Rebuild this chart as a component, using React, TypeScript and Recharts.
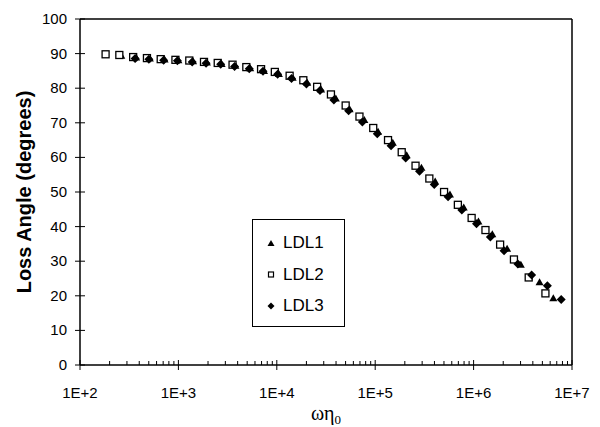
import React from 'react';
import { ScatterChart, Scatter, XAxis, YAxis, ReferenceLine, Legend } from 'recharts';

// reduced frequency (omega * eta0) and loss angle
const ldl1Freq = [263, 372, 513, 724, 1000, 1410, 1950, 2750, 3800, 5370, 7410, 10500, 14500, 20400, 28200, 39800, 55000, 77600, 107000, 151000, 209000, 295000, 407000, 575000, 794000, 1120000, 1550000, 2190000, 3020000, 4680000, 6460000];
const ldl1Angle = [89.4, 88.9, 88.6, 88.3, 88.1, 87.8, 87.4, 87.0, 86.5, 85.8, 85.0, 84.1, 83.0, 81.6, 79.6, 77.0, 73.9, 70.8, 67.4, 64.2, 60.6, 57.0, 53.0, 49.3, 45.5, 41.5, 37.8, 33.6, 29.0, 23.9, 19.3];

const ldl2Freq = [182, 251, 347, 479, 661, 933, 1290, 1820, 2510, 3550, 4900, 6920, 9550, 13500, 18600, 25700, 35500, 50100, 69200, 95500, 135000, 186000, 257000, 355000, 501000, 692000, 955000, 1320000, 1860000, 2570000, 3630000, 5370000];
const ldl2Angle = [89.8, 89.6, 89.0, 88.7, 88.4, 88.2, 88.0, 87.6, 87.3, 86.8, 86.1, 85.5, 84.7, 83.6, 82.3, 80.4, 78.2, 75.0, 71.8, 68.5, 65.0, 61.5, 57.6, 53.9, 50.0, 46.3, 42.5, 39.0, 34.8, 30.5, 25.3, 20.7];

const ldl3Freq = [363, 501, 708, 977, 1380, 1910, 2690, 3720, 5250, 7240, 10200, 14100, 20000, 27500, 38000, 53700, 74100, 105000, 145000, 204000, 282000, 398000, 550000, 759000, 1070000, 1480000, 2040000, 2820000, 3890000, 5620000, 7760000];
const ldl3Angle = [88.6, 88.4, 88.1, 87.9, 87.6, 87.2, 86.9, 86.3, 85.6, 84.9, 84.0, 82.8, 81.2, 79.3, 76.6, 73.5, 70.2, 66.8, 63.4, 59.8, 56.0, 52.2, 48.6, 44.8, 40.8, 37.0, 33.0, 29.2, 26.0, 22.9, 18.9];

const seriesNames = ['LDL1', 'LDL2', 'LDL3'];

const majorTicks = [100, 1000, 10000, 100000, 1000000, 10000000];
const minorTicks = majorTicks.slice(0, -1).flatMap((d) => [2, 3, 4, 5, 6, 7, 8, 9].map((m) => m * d));
const xTicks = [...majorTicks, ...minorTicks].sort((a, b) => a - b);
const yTicks = [0, 10, 20, 30, 40, 50, 60, 70, 80, 90, 100];

const toPoints = (f: number[], a: number[]) => f.map((x, i) => ({ x, y: a[i] }));

const sans = '"Liberation Sans", Arial, sans-serif';

const Tri = (p: any) => (
  <polygon points={`${p.cx},${p.cy - 4} ${p.cx + 4},${p.cy + 3} ${p.cx - 4},${p.cy + 3}`} fill="#000" />
);
const Sq = (p: any) => (
  <rect x={p.cx - 3.5} y={p.cy - 3.5} width={7} height={7} fill="#fff" stroke="#000" strokeWidth={1.3} />
);
const Dia = (p: any) => (
  <polygon points={`${p.cx},${p.cy - 4.5} ${p.cx + 4.5},${p.cy} ${p.cx},${p.cy + 4.5} ${p.cx - 4.5},${p.cy}`} fill="#000" />
);

const XTick = (props: any) => {
  const { x, y, payload } = props;
  const v = payload.value;
  if (!majorTicks.includes(v)) {
    return <line x1={x} x2={x} y1={y} y2={y - 4} stroke="#000" />;
  }
  return (
    <g>
      <line x1={x} x2={x} y1={y - 5} y2={y + 5} stroke="#000" />
      <text x={x} y={y + 33} textAnchor="middle" fontSize={15} fontFamily={sans} fill="#000">
        {`1E+${Math.round(Math.log10(v))}`}
      </text>
    </g>
  );
};

const YTick = (props: any) => {
  const { x, y, payload } = props;
  return (
    <g>
      <line x1={x - 5} x2={x + 5} y1={y} y2={y} stroke="#000" />
      <text x={x - 13} y={y + 5} textAnchor="end" fontSize={15} fontFamily={sans} fill="#000">
        {payload.value}
      </text>
    </g>
  );
};

const XTitle = (props: any) => {
  const { x, y, width } = props.viewBox;
  return (
    <text x={x + width / 2} y={y + 55} textAnchor="middle" fontSize={20} fontFamily='"Liberation Serif", serif' fill="#000">
      <tspan>ωη</tspan>
      <tspan fontSize={13} dy={4}>0</tspan>
    </text>
  );
};

const YTitle = (props: any) => {
  const { y, height } = props.viewBox;
  const cy = y + height / 2;
  return (
    <text x={24} y={cy} transform={`rotate(-90, 24, ${cy})`} textAnchor="middle" dominantBaseline="central" fontSize={20} fontWeight="bold" fontFamily={sans} fill="#000">
      Loss Angle (degrees)
    </text>
  );
};

const markers = [
  <polygon key="t" points="6,3 9.5,9 2.5,9" fill="#000" />,
  <rect key="s" x={3.5} y={3} width={5} height={5} fill="#fff" stroke="#000" strokeWidth={1.2} />,
  <polygon key="d" points="6,2.5 9.5,6 6,9.5 2.5,6" fill="#000" />,
];

const LegendBox = () => (
  <div style={{ border: '1px solid #000', width: 93, height: 108, boxSizing: 'border-box', paddingTop: 7, background: '#fff' }}>
    {seriesNames.map((n, i) => (
      <div key={n} style={{ height: 31.7, display: 'flex', alignItems: 'center', paddingLeft: 12, boxSizing: 'border-box' }}>
        <svg width={12} height={12}>{markers[i]}</svg>
        <span style={{ fontFamily: sans, fontSize: 17, marginLeft: 6, color: '#000' }}>{n}</span>
      </div>
    ))}
  </div>
);

export default function App() {
  return (
    <div style={{ position: 'absolute', left: 0, top: 0, background: '#fff' }}>
      <ScatterChart width={600} height={427} margin={{ top: 19, right: 28, bottom: 0, left: 0 }}>
        <XAxis
          dataKey="x"
          type="number"
          scale="log"
          domain={[100, 10000000]}
          ticks={xTicks}
          interval={0}
          tick={<XTick />}
          tickLine={false}
          tickSize={0}
          tickMargin={0}
          height={62}
          allowDataOverflow
          axisLine={{ stroke: '#000', strokeWidth: 1.5 }}
          label={(p: any) => <XTitle {...p} />}
        />
        <YAxis
          dataKey="y"
          type="number"
          domain={[0, 100]}
          ticks={yTicks}
          interval={0}
          tick={<YTick />}
          tickLine={false}
          tickSize={0}
          tickMargin={0}
          width={80}
          axisLine={{ stroke: '#000', strokeWidth: 1.5 }}
          label={(p: any) => <YTitle {...p} />}
        />
        <ReferenceLine y={100} stroke="#000" strokeWidth={1.5} />
        <ReferenceLine x={10000000} stroke="#000" strokeWidth={1.5} />
        <Legend
          layout="vertical"
          align="center"
          verticalAlign="middle"
          content={<LegendBox />}
          wrapperStyle={{ position: 'absolute', left: 252, top: 219, width: 93, height: 108 }}
        />
        <Scatter name="LDL1" data={toPoints(ldl1Freq, ldl1Angle)} shape={Tri} isAnimationActive={false} />
        <Scatter name="LDL2" data={toPoints(ldl2Freq, ldl2Angle)} shape={Sq} isAnimationActive={false} />
        <Scatter name="LDL3" data={toPoints(ldl3Freq, ldl3Angle)} shape={Dia} isAnimationActive={false} />
      </ScatterChart>
    </div>
  );
}
